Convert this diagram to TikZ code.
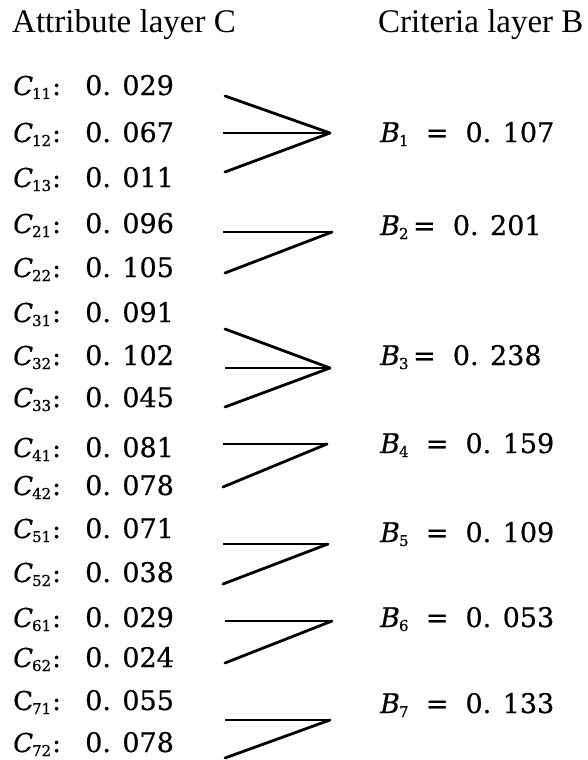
\documentclass[tikz,border=0pt]{standalone}
\usepackage{fontspec}
\setmainfont{Liberation Serif}
\newfontfamily\numfont[FakeBold=0.6]{DejaVu Serif}

% subscripted layer symbols
\newcommand{\csub}[2]{{\itshape #1}\kern-1pt\raisebox{-4pt}{\fontsize{15}{15}\selectfont #2}}
\newcommand{\clab}[1]{\csub{C}{#1}\kern1pt:}

\begin{document}
\begin{tikzpicture}[
        x=1pt,y=-1pt,
        title/.style={anchor=base west,inner sep=0pt,font=\fontsize{33}{38}\selectfont},
        attr/.style={anchor=base west,inner sep=0pt,font=\numfont\fontsize{26}{30}\selectfont},
        weight/.style={anchor=base west,inner sep=0pt,font=\numfont\fontsize{27}{30}\selectfont},
        crit/.style={anchor=base west,inner sep=0pt,font=\numfont\fontsize{27}{30}\selectfont},
        spoke/.style={line width=2.8pt,line cap=round},
        flat/.style={line width=1.6pt}
    ]
    \useasboundingbox (0,0) rectangle (587,760);

    % Headings
    \node[title] (hc) at (12,33) {Attribute layer C};
    \node[title] (hb) at (378,33) {Criteria layer B};

    % Attribute layer
    \node[attr] (c11) at (13,95) {\clab{11}};
    \node[weight] (w11) at (85,95) {0. 029};
    \node[attr] (c12) at (13,142) {\clab{12}};
    \node[weight] (w12) at (85,142) {0. 067};
    \node[attr] (c13) at (13,187) {\clab{13}};
    \node[weight] (w13) at (85,187) {0. 011};

    \node[attr] (c21) at (13,233) {\clab{21}};
    \node[weight] (w21) at (85,233) {0. 096};
    \node[attr] (c22) at (13,277) {\clab{22}};
    \node[weight] (w22) at (85,277) {0. 105};

    \node[attr] (c31) at (13,322) {\clab{31}};
    \node[weight] (w31) at (85,322) {0. 091};
    \node[attr] (c32) at (13,365) {\clab{32}};
    \node[weight] (w32) at (85,365) {0. 102};
    \node[attr] (c33) at (13,407) {\clab{33}};
    \node[weight] (w33) at (85,407) {0. 045};

    \node[attr] (c41) at (13,457) {\clab{41}};
    \node[weight] (w41) at (85,457) {0. 081};
    \node[attr] (c42) at (13,495) {\clab{42}};
    \node[weight] (w42) at (85,495) {0. 078};

    \node[attr] (c51) at (13,538) {\clab{51}};
    \node[weight] (w51) at (85,538) {0. 071};
    \node[attr] (c52) at (13,582) {\clab{52}};
    \node[weight] (w52) at (85,582) {0. 038};

    \node[attr] (c61) at (13,627) {\clab{61}};
    \node[weight] (w61) at (85,627) {0. 029};
    \node[attr] (c62) at (13,667) {\clab{62}};
    \node[weight] (w62) at (85,667) {0. 024};

    \node[attr] (c71) at (13,710) {C\kern-1pt\raisebox{-4pt}{\fontsize{15}{15}\selectfont 71}\kern1pt:};
    \node[weight] (w71) at (85,710) {0. 055};
    \node[attr] (c72) at (13,752) {\clab{72}};
    \node[weight] (w72) at (85,752) {0. 078};

    % Criteria layer
    \node[crit] (b1) at (380,142) {\csub{B}{1} \ = \ 0. 107};
    \node[crit] (b2) at (380,235) {\csub{B}{2}\,= \ 0. 201};
    \node[crit] (b3) at (380,365) {\csub{B}{3}\,= \ 0. 238};
    \node[crit] (b4) at (380,453) {\csub{B}{4} \ = \ 0. 159};
    \node[crit] (b5) at (380,542) {\csub{B}{5} \ = \ 0. 109};
    \node[crit] (b6) at (380,627) {\csub{B}{6} \ = \ 0. 053};
    \node[crit] (b7) at (380,713) {\csub{B}{7} \ = \ 0. 133};

    % Tips where the lines meet
    \coordinate (t1) at (330,133);
    \coordinate (t2) at (332,232);
    \coordinate (t3) at (330,368);
    \coordinate (t4) at (327,444);
    \coordinate (t5) at (328,544);
    \coordinate (t6) at (332,621);
    \coordinate (t7) at (330,720);

    % Free ends on the left
    \coordinate (s11) at (225,96);
    \coordinate (s12) at (223,133);
    \coordinate (s13) at (225,172);
    \coordinate (s21) at (223,232);
    \coordinate (s22) at (225,273);
    \coordinate (s31) at (225,329);
    \coordinate (s32) at (225,368);
    \coordinate (s33) at (225,407);
    \coordinate (s41) at (223,444);
    \coordinate (s42) at (223,487);
    \coordinate (s51) at (223,544);
    \coordinate (s52) at (223,584);
    \coordinate (s61) at (225,621);
    \coordinate (s62) at (225,663);
    \coordinate (s71) at (225,720);
    \coordinate (s72) at (225,758);

    % Lines
    \draw[spoke] (s11) -- (t1);
    \draw[flat] (s12) -- (t1);
    \draw[spoke] (s13) -- (t1);

    \draw[flat] (s21) -- (t2);
    \draw[spoke] (s22) -- (t2);

    \draw[spoke] (s31) -- (t3);
    \draw[flat] (s32) -- (t3);
    \draw[spoke] (s33) -- (t3);

    \draw[flat] (s41) -- (t4);
    \draw[spoke] (s42) -- (t4);

    \draw[flat] (s51) -- (t5);
    \draw[spoke] (s52) -- (t5);

    \draw[flat] (s61) -- (t6);
    \draw[spoke] (s62) -- (t6);

    \draw[flat] (s71) -- (t7);
    \draw[spoke] (s72) -- (t7);

\end{tikzpicture}
\end{document}
